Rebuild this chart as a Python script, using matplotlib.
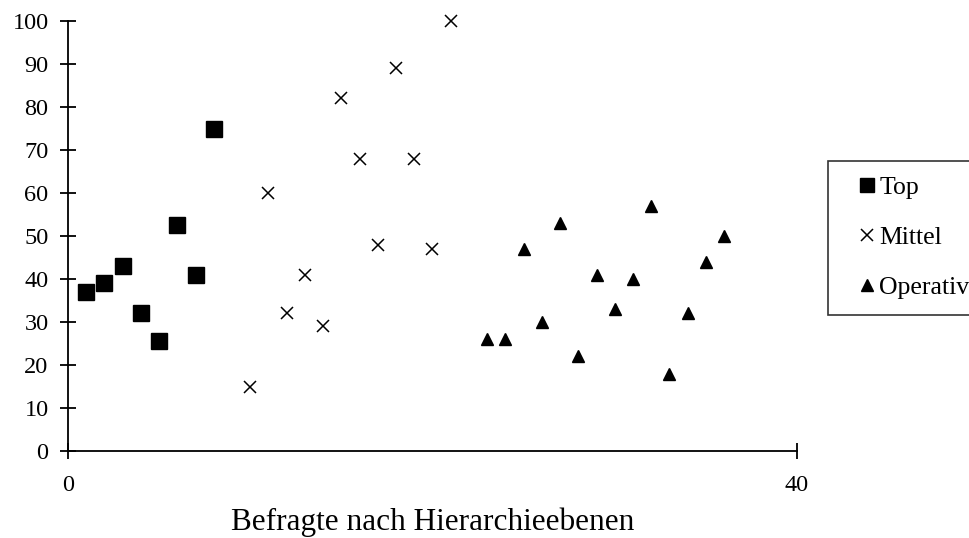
import matplotlib
matplotlib.use("Agg")
import matplotlib.pyplot as plt

plt.rcParams['font.family'] = ['Liberation Serif', 'DejaVu Serif']

# Befragte je Hierarchieebene (laufende Nummer, Wert)
top_x = [1, 2, 3, 4, 5, 6, 7, 8]
top_y = [37, 39, 43, 32, 25.5, 52.5, 41, 75]

mittel_x = [10, 11, 12, 13, 14, 15, 16, 17, 18, 19, 20, 21]
mittel_y = [15, 60, 32, 41, 29, 82, 68, 48, 89, 68, 47, 100]

operativ_x = [23, 24, 25, 26, 27, 28, 29, 30, 31, 32, 33, 34, 35, 36]
operativ_y = [26, 26, 47, 30, 53, 22, 41, 33, 40, 57, 18, 32, 44, 50]

y_ticks = [0, 10, 20, 30, 40, 50, 60, 70, 80, 90, 100]
x_ticks = [0, 40]

fig = plt.figure(figsize=(9.7, 5.38), dpi=100)
ax = fig.add_axes([68/970, 1 - 451/538, (797 - 68)/970, (451 - 21)/538])

ax.plot(top_x, top_y, linestyle='none', marker='s', markersize=11.5,
        color='black', label='Top')
ax.plot(mittel_x, mittel_y, linestyle='none', marker='x', markersize=9,
        markeredgewidth=1.1, color='black', label='Mittel')
ax.plot(operativ_x, operativ_y, linestyle='none', marker='^', markersize=9,
        color='black', label='Operativ')

ax.set_xlim(0, 40)
ax.set_ylim(0, 100)
ax.set_xticks(x_ticks)
ax.set_yticks(y_ticks)
ax.spines['top'].set_visible(False)
ax.spines['right'].set_visible(False)
for side in ['left', 'bottom']:
    ax.spines[side].set_linewidth(1.3)
for line in ax.lines:
    line.set_clip_on(False)

ax.tick_params(axis='both', direction='inout', length=12, width=1.3,
               labelsize=17.5, colors='black')
ax.tick_params(axis='y', pad=8)
ax.tick_params(axis='x', pad=11)

# Achsentitel unten
fig.text((68 + 797) / 2 / 970, 1 - 530/538, 'Befragte nach Hierarchieebenen',
         fontsize=22.5, ha='center', va='baseline')

leg = fig.legend(loc='upper left', bbox_to_anchor=(828/970, 1 - 161/538),
                 borderaxespad=0, frameon=True, fancybox=False,
                 edgecolor='black', fontsize=18.5, labelspacing=1.05,
                 handlelength=1.8, handletextpad=-0.4, borderpad=0.6,
                 markerscale=0.9)
leg.get_frame().set_linewidth(1.2)

fig.savefig('out.png', dpi=100)
